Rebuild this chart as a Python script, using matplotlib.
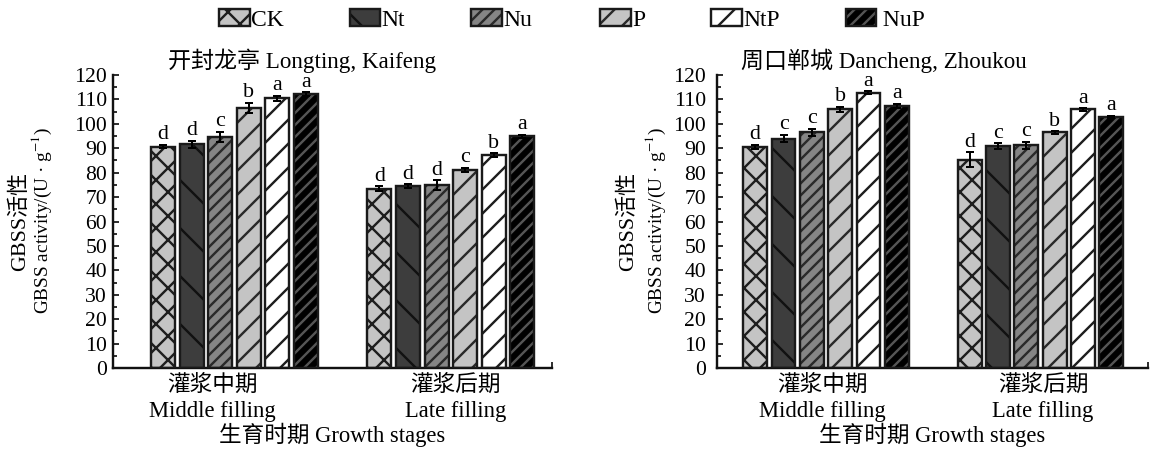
import matplotlib.pyplot as plt
from matplotlib.patches import Patch
from matplotlib.legend_handler import HandlerTuple
from matplotlib.ticker import MultipleLocator

plt.rcParams['font.family'] = ['Liberation Serif', 'Noto Sans CJK SC']
plt.rcParams['mathtext.fontset'] = 'stix'
plt.rcParams['font.size'] = 11.3
plt.rcParams['hatch.linewidth'] = 1.2

treatments = ['CK', 'Nt', 'Nu', 'P', 'NtP', ' NuP']
stages = ['灌浆中期\nMiddle filling', '灌浆后期\nLate filling']
site_titles = ['开封龙亭 Longting, Kaifeng', '周口郸城 Dancheng, Zhoukou']

# Kaifeng
kf_mid = [90.6, 91.6, 94.7, 106.6, 110.4, 112.2]
kf_mid_err = [0.7, 1.5, 2.0, 2.0, 1.0, 0.7]
kf_mid_sig = ['d', 'd', 'c', 'b', 'a', 'a']
kf_late = [73.4, 74.5, 74.8, 81.1, 87.2, 94.9]
kf_late_err = [1.0, 0.8, 2.0, 1.0, 0.8, 0.7]
kf_late_sig = ['d', 'd', 'd', 'c', 'b', 'a']

# Zhoukou
zk_mid = [90.6, 93.9, 96.5, 105.9, 112.7, 107.3]
zk_mid_err = [0.8, 1.5, 1.5, 1.0, 0.6, 1.0]
zk_mid_sig = ['d', 'c', 'c', 'b', 'a', 'a']
zk_late = [85.3, 90.9, 91.2, 96.5, 105.9, 102.8]
zk_late_err = [3.0, 1.2, 1.5, 0.5, 0.5, 0.5]
zk_late_sig = ['d', 'c', 'c', 'b', 'a', 'a']

faces = ['#c4c4c4', '#3d3d3d', '#858585', '#c4c4c4', 'white', 'black']
hatches = ['xx', '\\', '////', '//', '//', '////']
hatch_colors = ['#1e1e1e', '#111111', '#2a2a2a', '#2a2a2a', '#1e1e1e', '#555555']
edge = '#1a1a1a'

pitch = 0.132
width = 0.111

fig = plt.figure(figsize=(8, 452 / 144))

panels = [
    (kf_mid, kf_mid_err, kf_mid_sig, kf_late, kf_late_err, kf_late_sig),
    (zk_mid, zk_mid_err, zk_mid_sig, zk_late, zk_late_err, zk_late_sig),
]
axes_rects = [[113 / 1152, 1 - 368 / 452, 439 / 1152, 293 / 452],
              [717 / 1152, 1 - 368 / 452, 431 / 1152, 293 / 452]]
xlims = [(-0.561, 1.467), (-0.508, 1.501)]
label_pos = [(-0.104, 1.023), (-0.019, 1.012)]
ytick_pad = [3, 5.5]
title_x = [302 / 1152, 884 / 1152]
ylab_x = [(20 / 1152, 42 / 1152), (628 / 1152, 656 / 1152)]

for p, (mid, mid_e, mid_s, late, late_e, late_s) in enumerate(panels):
    ax = fig.add_axes(axes_rects[p])
    for i in range(len(treatments)):
        xs = [0 + (i - 2.5) * pitch, 1 + (i - 2.5) * pitch]
        vals = [mid[i], late[i]]
        errs = [mid_e[i], late_e[i]]
        sigs = [mid_s[i], late_s[i]]
        ax.bar(xs, vals, width, color=faces[i], hatch=hatches[i],
               edgecolor=hatch_colors[i], linewidth=0, zorder=2)
        ax.bar(xs, vals, width, fill=False, edgecolor=edge, linewidth=1.2, zorder=3)
        ax.errorbar(xs, vals, yerr=errs, fmt='none', ecolor='black',
                    elinewidth=1.0, capsize=2, capthick=1.0, zorder=4)
        for x, v, e, s in zip(xs, vals, errs, sigs):
            ax.annotate(s, (x, v + e), xytext=(0, 0.3), textcoords='offset points',
                        ha='center', va='bottom', fontsize=11)

    ax.set_ylim(0, 120)
    ax.set_xlim(*xlims[p])
    ax.set_yticks(range(0, 121, 10))
    ax.yaxis.set_minor_locator(MultipleLocator(5))
    ax.tick_params(axis='y', which='major', direction='in', length=3, width=0.8,
                   pad=ytick_pad[p], labelsize=10.8)
    ax.tick_params(axis='y', which='minor', direction='in', length=1.8, width=0.8)
    ax.set_xticks(label_pos[p])
    ax.set_xticklabels(stages, linespacing=1.3)
    ax.tick_params(axis='x', which='major', length=0, pad=3.5)
    ax.set_xticks([xlims[p][1]], minor=True)
    ax.tick_params(axis='x', which='minor', direction='in', length=3, width=0.8)
    ax.set_xlabel('生育时期 Growth stages', labelpad=0.5)
    for side in ['top', 'right']:
        ax.spines[side].set_visible(False)
    for side in ['left', 'bottom']:
        ax.spines[side].set_linewidth(1.2)
        ax.spines[side].set_color('#111111')

    fig.text(title_x[p], 1 - 61 / 452, site_titles[p], ha='center', va='center', fontsize=11.5)
    fig.text(ylab_x[p][0], 0.511, 'GBSS活性', rotation=90, ha='center', va='center',
             fontsize=11)
    fig.text(ylab_x[p][1], 0.511, 'GBSS activity/(U · g$^{-1}$)', rotation=90,
             ha='center', va='center', fontsize=9.6)

handles = [(Patch(facecolor=faces[i], hatch=hatches[i], edgecolor=hatch_colors[i], linewidth=0),
            Patch(fill=False, edgecolor=edge, linewidth=1.2)) for i in range(len(treatments))]
leg_kw = dict(handler_map={tuple: HandlerTuple(ndivide=1)}, loc='center left', ncol=3,
              frameon=False, borderpad=0, borderaxespad=0, handlelength=1.3,
              handleheight=0.76, handletextpad=0.05, columnspacing=2.8, fontsize=11.8)
fig.legend(handles[:3], treatments[:3], bbox_to_anchor=(219 / 1152, 1 - 20 / 452), **leg_kw)
fig.legend(handles[3:], treatments[3:], bbox_to_anchor=(600 / 1152, 1 - 20 / 452), **leg_kw)

fig.savefig('out.png', dpi=144)
